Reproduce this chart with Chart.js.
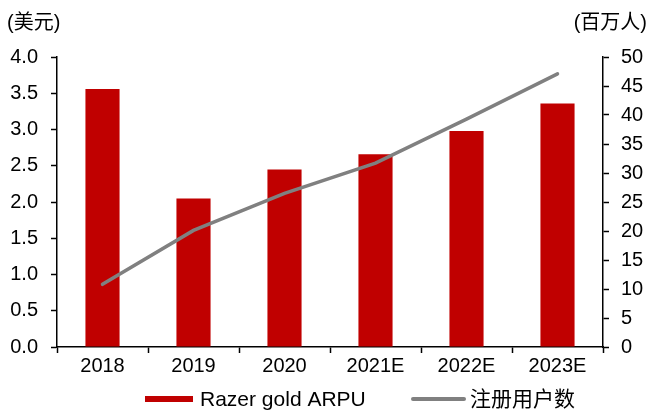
<!DOCTYPE html>
<html>
<head>
<meta charset="utf-8">
<script src="https://cdn.jsdelivr.net/npm/chart.js@4.4.1/dist/chart.umd.min.js"></script>
<style>
html,body{margin:0;padding:0;background:#fff;}
#wrap{width:649px;height:410px;position:relative;}
</style>
</head>
<body>
<div id="wrap"><canvas id="c" width="649" height="410"></canvas></div>
<script>
const categories = ["2018", "2019", "2020", "2021E", "2022E", "2023E"];
const arpuValues = [3.56, 2.05, 2.45, 2.66, 2.98, 3.36];
const userValues = [10.8, 20.1, 26.5, 31.7, 39.3, 47.1];
const leftTitle = "(美元)";
const rightTitle = "(百万人)";
const arpuLabel = "Razer gold ARPU";
const userLabel = "注册用户数";

const BAR_COLOR = '#C00000';
const LINE_COLOR = '#808080';
const FONT = "'Liberation Sans', Arial, 'Noto Sans CJK SC', sans-serif";

const decorPlugin = {
  id: 'decor',
  afterDraw(chart) {
    const ctx = chart.ctx;
    ctx.save();
    ctx.fillStyle = '#000';
    // unit titles
    ctx.font = "20px " + FONT;
    ctx.textBaseline = 'alphabetic';
    ctx.textAlign = 'left';
    ctx.fillText(leftTitle, 7, 29);
    ctx.textAlign = 'right';
    ctx.fillText(rightTitle, 647, 29);
    // legend
    const ly = 399;
    ctx.fillStyle = BAR_COLOR;
    ctx.fillRect(145, ly - 3, 48, 6);
    ctx.fillStyle = '#000';
    ctx.font = "21px " + FONT;
    ctx.textAlign = 'left';
    ctx.fillText(arpuLabel, 200, 406);
    ctx.strokeStyle = LINE_COLOR;
    ctx.lineWidth = 4;
    ctx.lineCap = 'round';
    ctx.beginPath();
    ctx.moveTo(413, ly);
    ctx.lineTo(464, ly);
    ctx.stroke();
    ctx.fillText(userLabel, 470, 406);
    ctx.restore();
  }
};

new Chart(document.getElementById('c'), {
  data: {
    labels: categories,
    datasets: [
      {
        type: 'line',
        label: userLabel,
        data: userValues,
        yAxisID: 'y2',
        borderColor: LINE_COLOR,
        backgroundColor: LINE_COLOR,
        borderWidth: 3.5,
        pointRadius: 0,
        tension: 0,
        borderCapStyle: 'round',
        order: 0
      },
      {
        type: 'bar',
        label: arpuLabel,
        data: arpuValues,
        yAxisID: 'y',
        backgroundColor: BAR_COLOR,
        borderWidth: 0,
        barPercentage: 0.375,
        categoryPercentage: 1.0,
        order: 1
      }
    ]
  },
  options: {
    responsive: false,
    animation: false,
    devicePixelRatio: 1,
    layout: { padding: { top: 57, left: 0, right: 0, bottom: 0 } },
    plugins: {
      tooltip: { enabled: false },
      legend: { display: false }
    },
    scales: {
      x: {
        offset: true,
        afterFit: s => { s.height = 63; },
        grid: {
          offset: true,
          drawOnChartArea: false,
          drawTicks: true,
          tickLength: 6,
          tickColor: '#000',
          tickWidth: 1.5
        },
        border: { display: true, color: '#000', width: 1.5 },
        ticks: { color: '#000', font: { family: FONT, size: 20 }, padding: 1 }
      },
      y: {
        position: 'left',
        min: 0, max: 4,
        afterFit: s => { s.width = 57; },
        grid: {
          drawOnChartArea: false,
          drawTicks: true,
          tickLength: 6,
          tickColor: '#000',
          tickWidth: 1.5
        },
        border: { display: true, color: '#000', width: 1.5 },
        ticks: {
          stepSize: 0.5,
          color: '#000',
          font: { family: FONT, size: 20 },
          padding: 13,
          callback: v => Number(v).toFixed(1)
        }
      },
      y2: {
        position: 'right',
        min: 0, max: 50,
        afterFit: s => { s.width = 46; },
        grid: {
          drawOnChartArea: false,
          drawTicks: true,
          tickLength: 6,
          tickColor: '#000',
          tickWidth: 1.5
        },
        border: { display: true, color: '#000', width: 1.5 },
        ticks: {
          stepSize: 5,
          color: '#000',
          font: { family: FONT, size: 20 },
          padding: 12
        }
      }
    }
  },
  plugins: [decorPlugin]
});
</script>
</body>
</html>
